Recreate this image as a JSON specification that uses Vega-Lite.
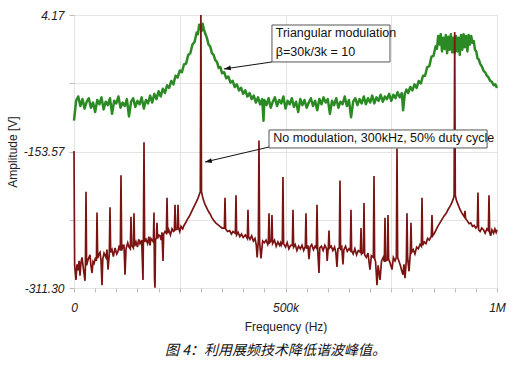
{
  "$schema": "https://vega.github.io/schema/vega-lite/v6.json",
  "width": 423,
  "height": 273,
  "autosize": {"type": "none"},
  "padding": {"left": 74, "top": 15, "right": 23, "bottom": 78},
  "background": "white",
  "title": {"text": "图 4：利用展频技术降低谐波峰值。", "orient": "bottom", "anchor": "middle", "font": "Noto Sans CJK SC", "fontSize": 14, "fontStyle": "italic", "fontWeight": "normal", "color": "#111", "offset": 12, "dx": -10},
  "config": {
    "font": "Liberation Sans",
    "view": {"stroke": null},
    "axis": {"gridColor": "#e4e4e4", "domain": false, "tickColor": "#bdbdbd", "labelFont": "Liberation Sans", "labelFontStyle": "italic", "labelFontSize": 12, "labelColor": "#222", "titleFont": "Liberation Sans", "titleFontWeight": "normal", "titleFontSize": 12, "titleColor": "#222", "labelOverlap": false, "labelFlush": false}
  },
  "datasets": {
    "green": [
      {"f":0,"v":-118},{"f":5,"v":-95},{"f":10,"v":-90},{"f":15,"v":-101},{"f":20,"v":-93},{"f":25,"v":-104},{"f":30,"v":-96},{"f":35,"v":-92},{"f":40,"v":-103},{"f":45,"v":-97},{"f":50,"v":-108},{"f":55,"v":-94},{"f":60,"v":-99},{"f":65,"v":-91},{"f":70,"v":-105},{"f":75,"v":-96},{"f":80,"v":-100},{"f":85,"v":-92},{"f":90,"v":-110},{"f":95,"v":-95},{"f":100,"v":-98},{"f":105,"v":-90},{"f":110,"v":-103},{"f":115,"v":-97},{"f":120,"v":-101},{"f":125,"v":-93},{"f":130,"v":-113},{"f":135,"v":-96},{"f":140,"v":-92},{"f":145,"v":-102},{"f":150,"v":-95},{"f":155,"v":-99},{"f":160,"v":-91},{"f":165,"v":-104},{"f":170,"v":-94},{"f":175,"v":-98},{"f":180,"v":-89},
      {"f":185,"v":-97},{"f":190,"v":-87},{"f":195,"v":-93},{"f":200,"v":-84},{"f":205,"v":-90},{"f":210,"v":-81},{"f":215,"v":-86},{"f":220,"v":-77},{"f":225,"v":-80},{"f":230,"v":-72},{"f":235,"v":-76},{"f":240,"v":-66},{"f":245,"v":-68},{"f":250,"v":-60},{"f":255,"v":-62},{"f":260,"v":-53},{"f":265,"v":-52},{"f":270,"v":-42},{"f":275,"v":-40},{"f":280,"v":-30},{"f":285,"v":-27},{"f":290,"v":-16},{"f":293,"v":-18},{"f":296,"v":-7},{"f":298,"v":-12},{"f":300,"v":-9},{"f":302,"v":-14},{"f":304,"v":-6},{"f":307,"v":-12},{"f":310,"v":-17},{"f":314,"v":-22},{"f":318,"v":-30},{"f":322,"v":-32},{"f":326,"v":-40},{"f":330,"v":-42},{"f":334,"v":-48},{"f":338,"v":-50},{"f":342,"v":-57},{"f":346,"v":-56},{"f":350,"v":-63},{"f":355,"v":-62},{"f":360,"v":-69},{"f":365,"v":-67},{"f":370,"v":-74},{"f":375,"v":-72},{"f":380,"v":-79},{"f":385,"v":-76},{"f":390,"v":-83},{"f":395,"v":-80},{"f":400,"v":-87},{"f":405,"v":-83},{"f":410,"v":-90},{"f":415,"v":-86},{"f":420,"v":-93},{"f":425,"v":-89},{"f":430,"v":-97},{"f":435,"v":-91},{"f":440,"v":-99},{"f":445,"v":-93},{"f":448,"v":-118},
      {"f":450,"v":-94},{"f":455,"v":-100},{"f":460,"v":-92},{"f":465,"v":-103},{"f":470,"v":-96},{"f":475,"v":-91},{"f":480,"v":-101},{"f":485,"v":-94},{"f":490,"v":-98},{"f":495,"v":-90},{"f":500,"v":-104},{"f":505,"v":-95},{"f":510,"v":-99},{"f":515,"v":-92},{"f":520,"v":-102},{"f":525,"v":-96},{"f":530,"v":-108},{"f":535,"v":-93},{"f":540,"v":-100},{"f":545,"v":-94},{"f":550,"v":-103},{"f":555,"v":-97},{"f":560,"v":-92},{"f":565,"v":-101},{"f":570,"v":-95},{"f":575,"v":-106},{"f":580,"v":-93},{"f":585,"v":-99},{"f":590,"v":-91},{"f":595,"v":-97},{"f":600,"v":-93},{"f":605,"v":-110},{"f":610,"v":-95},{"f":615,"v":-100},{"f":620,"v":-92},{"f":625,"v":-103},{"f":630,"v":-96},{"f":635,"v":-99},{"f":640,"v":-90},{"f":645,"v":-101},{"f":650,"v":-94},{"f":655,"v":-114},{"f":660,"v":-96},{"f":665,"v":-92},{"f":670,"v":-100},{"f":675,"v":-93},{"f":680,"v":-98},{"f":685,"v":-90},{"f":690,"v":-99},{"f":695,"v":-92},{"f":700,"v":-97},{"f":705,"v":-89},{"f":710,"v":-98},{"f":715,"v":-91},{"f":720,"v":-95},{"f":725,"v":-88},{"f":730,"v":-96},{"f":735,"v":-90},{"f":740,"v":-93},{"f":745,"v":-87},{"f":750,"v":-95},{"f":755,"v":-88},{"f":760,"v":-92},{"f":765,"v":-85},{"f":770,"v":-91},{"f":775,"v":-86},{"f":778,"v":-106},{"f":782,"v":-87},{"f":786,"v":-82},{"f":790,"v":-86},{"f":795,"v":-79},{"f":800,"v":-83},{"f":805,"v":-76},{"f":810,"v":-80},{"f":815,"v":-72},{"f":820,"v":-75},{"f":825,"v":-66},{"f":830,"v":-66},{"f":835,"v":-56},{"f":840,"v":-55},{"f":845,"v":-44},{"f":850,"v":-43},{"f":855,"v":-32},{"f":858,"v":-35},{"f":861,"v":-20},{"f":864,"v":-30},{"f":867,"v":-18},{"f":870,"v":-38},{"f":873,"v":-22},{"f":876,"v":-35},{"f":879,"v":-19},{"f":882,"v":-40},{"f":885,"v":-21},{"f":888,"v":-36},{"f":891,"v":-18},{"f":894,"v":-39},{"f":897,"v":-22},{"f":900,"v":-40},{"f":903,"v":-20},{"f":906,"v":-38},{"f":909,"v":-22},{"f":912,"v":-42},{"f":915,"v":-19},{"f":918,"v":-36},{"f":921,"v":-18},{"f":924,"v":-33},{"f":927,"v":-20},{"f":930,"v":-38},{"f":933,"v":-19},{"f":936,"v":-30},{"f":939,"v":-20},{"f":942,"v":-28},{"f":945,"v":-26},{"f":948,"v":-36},{"f":951,"v":-38},{"f":954,"v":-46},{"f":957,"v":-47},{"f":960,"v":-52},{"f":964,"v":-55},{"f":968,"v":-60},{"f":972,"v":-62},{"f":976,"v":-66},{"f":980,"v":-68},{"f":984,"v":-72},{"f":988,"v":-73},{"f":992,"v":-77},{"f":996,"v":-76},{"f":1000,"v":-80}
    ],
    "red": [
      {"f":0,"v":-153},{"f":1.5,"v":-285},{"f":4.7,"v":-302},{"f":7,"v":-284},{"f":9.5,"v":-291},{"f":12,"v":-280},{"f":14.2,"v":-297},{"f":16.5,"v":-282},{"f":18.9,"v":-276},{"f":22,"v":-288},{"f":26,"v":-303},{"f":27,"v":-286},{"f":28.4,"v":-200},{"f":29.8,"v":-285},{"f":33,"v":-279},{"f":37.8,"v":-273},{"f":40,"v":-285},{"f":42.6,"v":-294},{"f":45,"v":-281},{"f":47.3,"v":-283},{"f":51,"v":-276},{"f":53,"v":-280},{"f":54.4,"v":-224},{"f":56,"v":-277},{"f":59,"v":-272},{"f":61.5,"v":-270},{"f":64,"v":-280},{"f":66.2,"v":-308},{"f":68,"v":-278},{"f":71,"v":-271},{"f":75.6,"v":-276},{"f":78,"v":-267},{"f":80.4,"v":-290},{"f":83.5,"v":-272},{"f":85.1,"v":-218},{"f":86.7,"v":-270},{"f":89.8,"v":-267},{"f":93,"v":-275},{"f":97,"v":-265},{"f":101,"v":-272},{"f":104,"v":-269},{"f":107,"v":-262},{"f":109.5,"v":-268},{"f":111.1,"v":-181},{"f":112.7,"v":-268},{"f":116,"v":-262},{"f":118.2,"v":-262},{"f":120.6,"v":-296},{"f":123,"v":-266},{"f":127,"v":-259},{"f":130,"v":-264},{"f":133.2,"v":-266},{"f":134.7,"v":-229},{"f":136.2,"v":-262},{"f":140.3,"v":-265},{"f":141.8,"v":-225},{"f":143.3,"v":-263},{"f":146.6,"v":-258},{"f":150,"v":-264},{"f":153,"v":-255},{"f":156,"v":-260},{"f":160,"v":-256},{"f":163.1,"v":-302},{"f":164,"v":-258},{"f":165.5,"v":-143},{"f":167,"v":-258},{"f":170.2,"v":-255},{"f":174,"v":-260},{"f":177,"v":-252},{"f":179.7,"v":-262},{"f":182,"v":-254},{"f":187.6,"v":-258},{"f":189.1,"v":-224},{"f":190.3,"v":-300},{"f":191.5,"v":-311},{"f":192.7,"v":-256},{"f":194.7,"v":-253},{"f":196.2,"v":-236},{"f":197.7,"v":-254},{"f":200,"v":-250},{"f":203.3,"v":-251},{"f":206,"v":-256},{"f":208,"v":-247},{"f":210.4,"v":-280},{"f":212,"v":-249},{"f":215,"v":-246},{"f":218.4,"v":-248},{"f":219.9,"v":-207},{"f":221.4,"v":-248},{"f":224,"v":-244},{"f":228,"v":-250},{"f":231.7,"v":-243},{"f":235,"v":-246},{"f":237.3,"v":-245},{"f":238.8,"v":-215},{"f":240.3,"v":-244},{"f":244.4,"v":-243},{"f":245.9,"v":-215},{"f":247.4,"v":-242},{"f":250,"v":-246},{"f":253,"v":-240},{"f":257,"v":-243},{"f":260,"v":-239},{"f":264,"v":-236},{"f":268,"v":-232},{"f":272,"v":-229},{"f":276,"v":-225},{"f":280,"v":-221},{"f":284,"v":-217},{"f":288,"v":-213},{"f":292,"v":-209},{"f":295,"v":-205},{"f":298.6,"v":-200},{"f":300,"v":4.17},{"f":301.4,"v":-200},{"f":304,"v":-206},{"f":307,"v":-211},{"f":310,"v":-215},{"f":314,"v":-219},{"f":318,"v":-223},{"f":322,"v":-226},{"f":326,"v":-230},{"f":330,"v":-233},{"f":335,"v":-236},{"f":340,"v":-238},{"f":345,"v":-240},{"f":350,"v":-242},{"f":355.5,"v":-242},{"f":357,"v":-207},{"f":358.5,"v":-243},{"f":363,"v":-246},{"f":368,"v":-245},{"f":372,"v":-249},{"f":376,"v":-246},{"f":381.5,"v":-248},{"f":383,"v":-204},{"f":384.5,"v":-250},{"f":388,"v":-247},{"f":392,"v":-252},{"f":396,"v":-249},{"f":400,"v":-253},{"f":405,"v":-250},{"f":409.8,"v":-254},{"f":411.3,"v":-221},{"f":412.8,"v":-252},{"f":416,"v":-255},{"f":420,"v":-251},{"f":424,"v":-257},{"f":428,"v":-254},{"f":431,"v":-262},{"f":433,"v":-276},{"f":435.8,"v":-256},{"f":437.3,"v":-141},{"f":438.8,"v":-258},{"f":442,"v":-277},{"f":446,"v":-257},{"f":450,"v":-259},{"f":454,"v":-256},{"f":458,"v":-261},{"f":459.5,"v":-258},{"f":461,"v":-225},{"f":462.5,"v":-259},{"f":466.5,"v":-257},{"f":468,"v":-227},{"f":469.5,"v":-260},{"f":474,"v":-256},{"f":478,"v":-263},{"f":482,"v":-258},{"f":486,"v":-262},{"f":488.5,"v":-259},{"f":490,"v":-262},{"f":492.5,"v":-259},{"f":494,"v":-183},{"f":495.5,"v":-260},{"f":500,"v":-264},{"f":504,"v":-259},{"f":508,"v":-266},{"f":512,"v":-262},{"f":516.2,"v":-262},{"f":517.7,"v":-221},{"f":519.2,"v":-264},{"f":523,"v":-261},{"f":527,"v":-268},{"f":531,"v":-263},{"f":535,"v":-266},{"f":539,"v":-262},{"f":543,"v":-268},{"f":546.9,"v":-263},{"f":548.4,"v":-225},{"f":549.9,"v":-266},{"f":553,"v":-262},{"f":555.5,"v":-278},{"f":558,"v":-264},{"f":562,"v":-261},{"f":566,"v":-267},{"f":570,"v":-263},{"f":573,"v":-265},{"f":574.5,"v":-215},{"f":576,"v":-266},{"f":579.2,"v":-294},{"f":581,"v":-265},{"f":585,"v":-263},{"f":589,"v":-268},{"f":593,"v":-262},{"f":597,"v":-266},{"f":598.5,"v":-280},{"f":601.3,"v":-264},{"f":602.8,"v":-245},{"f":604.3,"v":-265},{"f":608,"v":-263},{"f":612,"v":-268},{"f":616,"v":-264},{"f":619,"v":-270},{"f":621.7,"v":-287},{"f":624,"v":-266},{"f":627.3,"v":-265},{"f":628.8,"v":-187},{"f":630.3,"v":-266},{"f":633,"v":-264},{"f":635.9,"v":-284},{"f":638,"v":-267},{"f":642,"v":-263},{"f":646,"v":-269},{"f":650,"v":-266},{"f":653.3,"v":-268},{"f":654.8,"v":-221},{"f":656.3,"v":-268},{"f":660,"v":-272},{"f":664,"v":-266},{"f":668,"v":-273},{"f":672,"v":-268},{"f":677,"v":-270},{"f":678.5,"v":-242},{"f":680,"v":-272},{"f":684.1,"v":-270},{"f":685.6,"v":-213},{"f":687.1,"v":-273},{"f":691,"v":-276},{"f":695,"v":-271},{"f":699.7,"v":-290},{"f":703,"v":-274},{"f":707.7,"v":-276},{"f":709.2,"v":-182},{"f":710.7,"v":-277},{"f":713,"v":-281},{"f":716.3,"v":-308},{"f":719,"v":-285},{"f":723.4,"v":-302},{"f":727,"v":-280},{"f":731,"v":-276},{"f":733.7,"v":-281},{"f":735.2,"v":-230},{"f":736.7,"v":-280},{"f":740.8,"v":-279},{"f":742.3,"v":-227},{"f":743.8,"v":-278},{"f":747,"v":-282},{"f":751.8,"v":-290},{"f":755,"v":-276},{"f":759,"v":-280},{"f":762.1,"v":-276},{"f":763.6,"v":-150},{"f":765.1,"v":-276},{"f":768,"v":-280},{"f":772,"v":-286},{"f":775,"v":-292},{"f":777.8,"v":-296},{"f":780,"v":-284},{"f":782.5,"v":-300},{"f":785.7,"v":-279},{"f":787.2,"v":-225},{"f":788.7,"v":-276},{"f":792,"v":-292},{"f":795.2,"v":-270},{"f":796.7,"v":-236},{"f":798.2,"v":-270},{"f":802,"v":-267},{"f":806,"v":-272},{"f":810,"v":-264},{"f":814,"v":-266},{"f":818,"v":-261},{"f":821.2,"v":-263},{"f":822.7,"v":-207},{"f":824.2,"v":-262},{"f":828,"v":-258},{"f":832,"v":-260},{"f":836,"v":-254},{"f":840,"v":-256},{"f":844.8,"v":-251},{"f":846.3,"v":-227},{"f":847.8,"v":-251},{"f":852,"v":-248},{"f":856,"v":-244},{"f":860,"v":-240},{"f":865,"v":-236},{"f":870,"v":-232},{"f":875,"v":-228},{"f":880,"v":-225},{"f":885,"v":-220},{"f":889,"v":-217},{"f":893,"v":-213},{"f":897,"v":-208},{"f":898.6,"v":-204},{"f":900,"v":-15.5},{"f":901.4,"v":-204},{"f":904,"v":-210},{"f":908,"v":-215},{"f":912,"v":-220},{"f":916,"v":-224},{"f":920,"v":-227},{"f":922.8,"v":-229},{"f":924.3,"v":-222},{"f":925.8,"v":-231},{"f":930,"v":-234},{"f":934,"v":-237},{"f":938,"v":-236},{"f":942,"v":-240},{"f":946,"v":-239},{"f":950,"v":-242},{"f":953.5,"v":-240},{"f":955,"v":-201},{"f":956.5,"v":-244},{"f":960,"v":-246},{"f":964,"v":-242},{"f":968,"v":-244},{"f":972,"v":-248},{"f":976,"v":-243},{"f":979.6,"v":-245},{"f":981.1,"v":-204},{"f":982.6,"v":-247},{"f":985,"v":-251},{"f":988,"v":-244},{"f":992,"v":-248},{"f":995,"v":-243},{"f":998,"v":-247},{"f":1000,"v":-244}
    ],
    "boxes": [
      {"f":468,"v":-7.4,"f2":747,"v2":-50.1},
      {"f":461,"v":-128.7,"f2":976.6,"v2":-149.5}
    ],
    "texts": [
      {"f":477,"v":-17,"label":"Triangular modulation"},
      {"f":477,"v":-39,"label":"β=30k/3k = 10"},
      {"f":471,"v":-138.5,"label":"No modulation, 300kHz, 50% duty cycle"}
    ],
    "arrows": [
      {"name":"a1","f":468,"v":-50.1,"f2":354.6,"v2":-58.2},
      {"name":"a2","f":461,"v":-148.4,"f2":309.7,"v2":-165.7}
    ]
  },
  "encoding": {
    "x": {"field": "f", "type": "quantitative",
      "scale": {"domain": [0, 1000], "nice": false, "zero": false},
      "axis": {"title": "Frequency (Hz)", "values": [0,50,100,150,200,250,300,350,400,450,500,550,600,650,700,750,800,850,900,950,1000],
        "labelExpr": "datum.value == 0 ? '0' : datum.value == 500 ? '500k' : datum.value == 1000 ? '1M' : ''",
        "gridOpacity": {"condition": {"test": "datum.value % 250 == 0", "value": 1}, "value": 0},
        "tickSize": 4, "labelPadding": 10, "titlePadding": 8}},
    "y": {"field": "v", "type": "quantitative",
      "scale": {"domain": [-311.3, 4.17], "nice": false, "zero": false},
      "axis": {"title": "Amplitude [V]", "values": [4.17, -74.7, -153.57, -232.43, -311.3],
        "labelExpr": "datum.value == 4.17 ? '4.17' : datum.value == -153.57 ? '-153.57' : datum.value == -311.3 ? '-311.30' : ''",
        "tickSize": 5, "labelPadding": 5, "titlePadding": 4}}
  },
  "layer": [
    {"data": {"name": "green"}, "mark": {"type": "line", "color": "#2b8a24", "strokeWidth": 2.5, "strokeJoin": "round"}},
    {"data": {"name": "red"}, "mark": {"type": "line", "color": "#7c1313", "strokeWidth": 1.7, "strokeJoin": "miter"}},
    {"data": {"name": "boxes"}, "mark": {"type": "rect", "fill": "white", "stroke": "#555", "strokeWidth": 1},
      "encoding": {"x2": {"field": "f2"}, "y2": {"field": "v2"}}},
    {"data": {"name": "texts"}, "mark": {"type": "text", "align": "left", "baseline": "middle", "fontSize": 12.5, "font": "Liberation Sans", "color": "#111"},
      "encoding": {"text": {"field": "label"}}},
    {"data": {"name": "arrows"}, "mark": {"type": "rule", "color": "#111", "strokeWidth": 1},
      "encoding": {"x2": {"field": "f2"}, "y2": {"field": "v2"}}},
    {"data": {"name": "arrows"}, "transform": [{"filter": "datum.name == 'a1'"}],
      "mark": {"type": "point", "shape": "M0,0L-0.6,1.7L0.6,1.7Z", "filled": true, "color": "#111", "opacity": 1, "size": 64, "angle": 261},
      "encoding": {"x": {"field": "f2", "type": "quantitative"}, "y": {"field": "v2", "type": "quantitative"}}},
    {"data": {"name": "arrows"}, "transform": [{"filter": "datum.name == 'a2'"}],
      "mark": {"type": "point", "shape": "M0,0L-0.6,1.7L0.6,1.7Z", "filled": true, "color": "#111", "opacity": 1, "size": 64, "angle": 258},
      "encoding": {"x": {"field": "f2", "type": "quantitative"}, "y": {"field": "v2", "type": "quantitative"}}}
  ]
}
